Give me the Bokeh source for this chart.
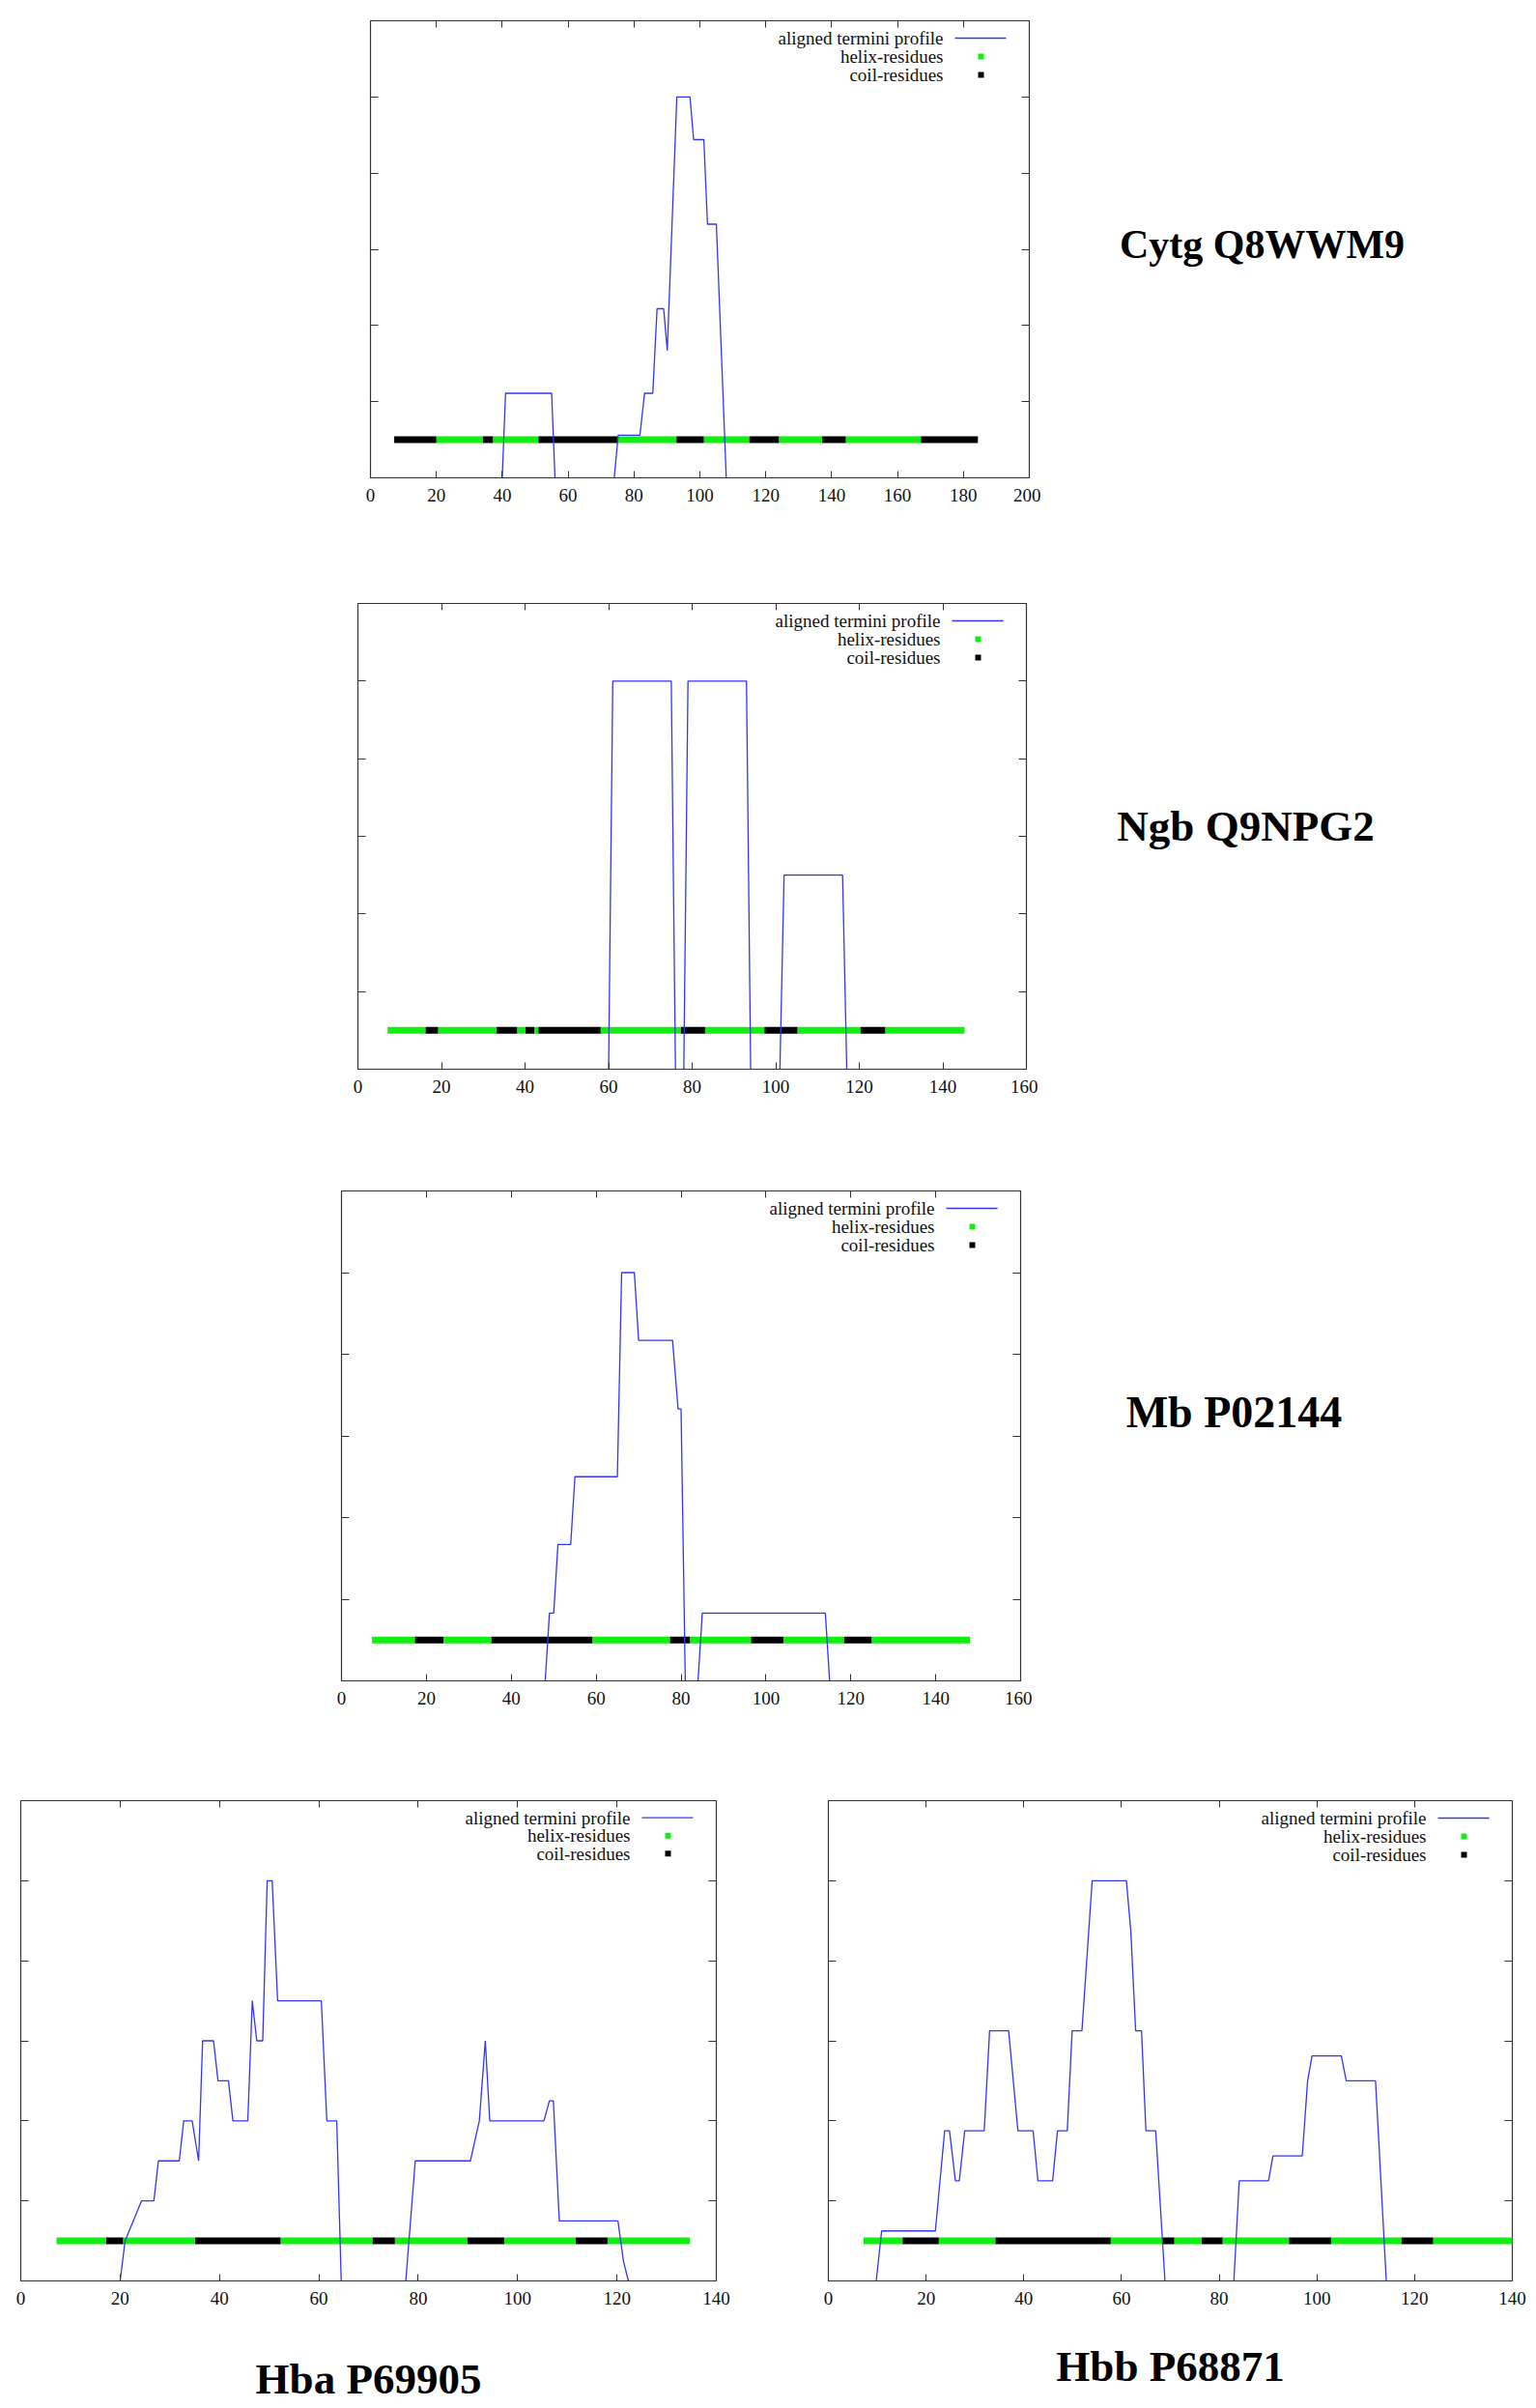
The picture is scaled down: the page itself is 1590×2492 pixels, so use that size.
from bokeh.plotting import figure
from bokeh.layouts import column, row
from bokeh.models import Range1d, FixedTicker, LinearAxis, Title
from bokeh.core.properties import value
from bokeh.embed import file_html
from bokeh.resources import INLINE

NAN = float("nan")

# ---------------- data ----------------
# Cytg Q8WWM9
cytg_x = [40, 41, 55, 56, NAN, 74, 75.2, 81.8, 83.2, 85.7, 87, 89, 90.1, 93, 97, 98.1, 101.2, 102.3, 105, 108]
cytg_y = [0, 1.11, 1.11, 0, NAN, 0, 0.56, 0.56, 1.11, 1.11, 2.22, 2.22, 1.67, 5, 5, 4.44, 4.44, 3.33, 3.33, 0]
cytg_start = [7.2, 20.0, 34.1, 37.2, 51.0, 74.9, 92.9, 101.2, 115.0, 124.0, 137.1, 144.3, 167.1]
cytg_end = [20.0, 34.1, 37.2, 51.0, 74.9, 92.9, 101.2, 115.0, 124.0, 137.1, 144.3, 167.1, 184.4]
cytg_type = ["coil", "helix", "coil", "helix", "coil", "helix", "coil", "helix", "coil", "helix", "coil", "helix", "coil"]

# Ngb Q9NPG2
ngb_x = [60, 61, 75, 76, NAN, 78, 79, 93, 94, NAN, 101, 102, 116, 117]
ngb_y = [0, 5, 5, 0, NAN, 0, 5, 5, 0, NAN, 0, 2.5, 2.5, 0]
ngb_start = [7.1, 16.2, 19.2, 33.2, 38.1, 40.1, 42.2, 43.2, 58.1, 77.3, 83.1, 97.3, 105.2, 120.3, 126.2]
ngb_end = [16.2, 19.2, 33.2, 38.1, 40.1, 42.2, 43.2, 58.1, 77.3, 83.1, 97.3, 105.2, 120.3, 126.2, 145.2]
ngb_type = ["helix", "coil", "helix", "coil", "helix", "coil", "helix", "coil", "helix", "coil", "helix", "coil", "helix", "coil", "helix"]

# Mb P02144
mb_x = [48, 49, 50, 51, 54, 55, 65, 66, 69, 70, 78, 79.3, 80, 81, NAN, 84, 85, 114, 115]
mb_y = [0, 0.83, 0.83, 1.67, 1.67, 2.5, 2.5, 5, 5, 4.17, 4.17, 3.33, 3.33, 0, NAN, 0, 0.83, 0.83, 0]
mb_start = [7.2, 17.3, 24.0, 35.3, 59.1, 77.4, 82.1, 96.5, 104.1, 118.4, 124.9]
mb_end = [17.3, 24.0, 35.3, 59.1, 77.4, 82.1, 96.5, 104.1, 118.4, 124.9, 148.1]
mb_type = ["helix", "coil", "helix", "coil", "helix", "coil", "helix", "coil", "helix", "coil", "helix"]

# Hba P69905
hba_x = [20, 21, 24.3, 26.8, 27.7, 31.9, 32.8, 34.5, 35.8, 36.6, 38.8, 39.7, 41.8, 42.7, 45.7, 46.6, 47.5, 48.7,
         49.6, 50.6, 51.7, 60.5, 61.6, 63.6, 64.5, NAN, 77.5, 79.4, 90.5, 92.3, 93.5, 94.4, 105.3, 106.4, 107.2, 108.4,
         120.2, 121.3, 122.3]
hba_y = [0, 0.5, 1.0, 1.0, 1.5, 1.5, 2.0, 2.0, 1.5, 3.0, 3.0, 2.5, 2.5, 2.0, 2.0, 3.5, 3.0, 3.0,
         5.0, 5.0, 3.5, 3.5, 2.0, 2.0, 0, NAN, 0, 1.5, 1.5, 2.0, 3.0, 2.0, 2.0, 2.25, 2.25, 0.75,
         0.75, 0.25, 0]
hba_start = [7.2, 17.2, 20.6, 35.1, 52.3, 70.8, 75.3, 89.9, 97.3, 111.7, 118.1]
hba_end = [17.2, 20.6, 35.1, 52.3, 70.8, 75.3, 89.9, 97.3, 111.7, 118.1, 134.7]
hba_type = ["helix", "coil", "helix", "coil", "helix", "coil", "helix", "coil", "helix", "coil", "helix"]

# Hbb P68871
hbb_x = [9.8, 10.9, 21.9, 23.8, 24.8, 26.0, 26.8, 27.9, 31.9, 33.0, 36.9, 38.8, 41.9, 42.9, 45.9, 46.9, 48.9,
         49.9, 51.9, 54.0, 61.0, 61.9, 62.9, 64.1, 65.0, 67.0, 68.9, NAN, 83.0, 84.1, 90.1, 91.0, 97.0, 98.1, 99.0,
         105.0, 106.0, 112.0, 114.2]
hbb_y = [0, 0.625, 0.625, 1.875, 1.875, 1.25, 1.25, 1.875, 1.875, 3.125, 3.125, 1.875, 1.875, 1.25, 1.25, 1.875, 1.875,
         3.125, 3.125, 5.0, 5.0, 4.375, 3.125, 3.125, 1.875, 1.875, 0, NAN, 0, 1.25, 1.25, 1.5625, 1.5625, 2.5, 2.8125,
         2.8125, 2.5, 2.5, 0]
hbb_start = [7.2, 15.2, 22.6, 34.2, 57.8, 68.4, 70.8, 76.4, 80.7, 94.3, 102.9, 117.3, 123.8]
hbb_end = [15.2, 22.6, 34.2, 57.8, 68.4, 70.8, 76.4, 80.7, 94.3, 102.9, 117.3, 123.8, 140.7]
hbb_type = ["helix", "coil", "helix", "coil", "helix", "coil", "helix", "coil", "helix", "coil", "helix", "coil", "helix"]

x_ticks_200 = [0, 20, 40, 60, 80, 100, 120, 140, 160, 180, 200]
x_ticks_160 = [0, 20, 40, 60, 80, 100, 120, 140, 160]
x_ticks_140 = [0, 20, 40, 60, 80, 100, 120, 140]
y_ticks = [1, 2, 3, 4, 5]

legend_labels = ["aligned termini profile", "helix-residues", "coil-residues"]
titles = ["Cytg Q8WWM9", "Ngb Q9NPG2", "Mb P02144", "Hba P69905", "Hbb P68871"]

# ---------------- styling ----------------
SERIF = "Liberation Serif"
BLUE = "#3535f5"
GREEN = "#12ee12"
BLACK = "#000000"
FRAME = "#333333"
YMAX = 6.0
BAR_Y = 0.5


def hide_labels(ax):
    ax.major_label_text_font_size = "1px"
    ax.major_label_text_color = None
    ax.major_label_standoff = 0


def panel(px, py, starts, ends, kinds, xmax, xticks, bl, br, bt, bb, fw, fh, gap=None):
    p = figure(width=bl + fw + br, height=bt + fh + bb, title=None,
               x_range=Range1d(0, xmax), y_range=Range1d(0, YMAX),
               output_backend="svg", toolbar_location=None,
               min_border_left=bl, min_border_right=br, min_border_top=bt, min_border_bottom=bb,
               x_axis_location=None, y_axis_location=None)
    p.grid.visible = False
    p.outline_line_color = FRAME
    p.outline_line_width = 1.2
    p.background_fill_color = "white"
    p.border_fill_color = "white"

    for loc in ["below", "above"]:
        ax = LinearAxis(ticker=FixedTicker(ticks=xticks))
        ax.major_tick_in = 7
        ax.major_tick_out = 0
        ax.minor_tick_line_color = None
        ax.axis_line_color = None
        ax.major_tick_line_color = FRAME
        if loc == "below":
            ax.major_label_text_font = SERIF
            ax.major_label_text_font_size = "19px"
            ax.major_label_text_color = "#111111"
            ax.major_label_standoff = 11
            if gap is not None:
                # invisible spacer between tick labels and the panel name below
                ax.axis_label = "\u00a0"
                ax.axis_label_text_font_size = "10px"
                ax.axis_label_text_color = None
                ax.axis_label_standoff = gap
        else:
            hide_labels(ax)
        p.add_layout(ax, loc)
    for loc in ["left", "right"]:
        ax = LinearAxis(ticker=FixedTicker(ticks=y_ticks))
        ax.major_tick_in = 8
        ax.major_tick_out = 0
        ax.minor_tick_line_color = None
        ax.axis_line_color = None
        ax.major_tick_line_color = FRAME
        hide_labels(ax)
        p.add_layout(ax, loc)

    # helix / coil residue bar
    hs = [s for s, k in zip(starts, kinds) if k == "helix"]
    he = [e for e, k in zip(ends, kinds) if k == "helix"]
    cs = [s for s, k in zip(starts, kinds) if k == "coil"]
    ce = [e for e, k in zip(ends, kinds) if k == "coil"]
    p.segment(x0=hs, y0=[BAR_Y] * len(hs), x1=he, y1=[BAR_Y] * len(hs),
              line_color=GREEN, line_width=7, line_cap="butt")
    p.segment(x0=cs, y0=[BAR_Y] * len(cs), x1=ce, y1=[BAR_Y] * len(cs),
              line_color=BLACK, line_width=7, line_cap="butt")

    # profile line
    p.line(px, py, line_color=BLUE, line_width=1.3)

    # legend (gnuplot style: text right-aligned, sample to the right)
    dx = xmax / fw
    dy = YMAX / fh
    rows_px = [18, 37, 56]
    ys = [YMAX - r * dy for r in rows_px]
    xt = xmax - 89 * dx
    p.text(x=[xt] * 3, y=ys, text=legend_labels,
           text_font=value(SERIF), text_font_size=value("19px"),
           text_align="right", text_baseline="middle", text_color="#111111")
    p.segment(x0=[xmax - 77 * dx], y0=[ys[0]], x1=[xmax - 24 * dx], y1=[ys[0]],
              line_color=BLUE, line_width=1.3)
    p.scatter(x=[xmax - 50 * dx] * 2, y=ys[1:], marker="square", size=6,
              fill_color=[GREEN, BLACK], line_color=None)
    return p


def title_fig(w, h, xs, ys, texts, sizes):
    t = figure(width=w, height=h, title=None, x_range=Range1d(0, w), y_range=Range1d(h, 0),
               output_backend="svg", toolbar_location=None,
               x_axis_type=None, y_axis_type=None,
               min_border_left=0, min_border_right=0, min_border_top=0, min_border_bottom=0)
    t.grid.visible = False
    t.outline_line_color = None
    t.border_fill_color = "white"
    for x, y, s, fs in zip(xs, ys, texts, sizes):
        t.text(x=[x], y=[y], text=[s], text_font=value(SERIF), text_font_size=value(fs),
               text_font_style="bold", text_align="center", text_baseline="alphabetic",
               text_color="black")
    return t


def bottom_title(p, text):
    t = Title(text=text, align="center", text_font=SERIF, text_font_size="45px",
              text_font_style="bold", text_color="black", standoff=0)
    p.add_layout(t, "below")


W = 1590

p1 = panel(cytg_x, cytg_y, cytg_start, cytg_end, cytg_type, 200, x_ticks_200,
           383, 12, 21, 74, 682, 473)
t1 = title_fig(W - p1.width, p1.height, [229], [278], [titles[0]], ["42px"])

p2 = panel(ngb_x, ngb_y, ngb_start, ngb_end, ngb_type, 160, x_ticks_160,
           370, 12, 56, 82, 692, 482)
t2 = title_fig(W - p2.width, p2.height, [215], [296], [titles[1]], ["45px"])

p3 = panel(mb_x, mb_y, mb_start, mb_end, mb_type, 160, x_ticks_160,
           353, 12, 44, 69, 703, 507)
t3 = title_fig(W - p3.width, p3.height, [209], [280], [titles[2]], ["46px"])

p4 = panel(hba_x, hba_y, hba_start, hba_end, hba_type, 140, x_ticks_140,
           21, 60, 51, 122, 720, 509, gap=33)
p5 = panel(hbb_x, hbb_y, hbb_start, hbb_end, hbb_type, 140, x_ticks_140,
           56, W - p4.width - 56 - 708, 55, 130, 708, 497, gap=20)
bottom_title(p4, titles[3])
bottom_title(p5, titles[4])

layout = column(
    row(p1, t1, spacing=0),
    row(p2, t2, spacing=0),
    row(p3, t3, spacing=0),
    row(p4, p5, spacing=0),
    spacing=0,
)

open("out.html", "w").write(file_html(layout, INLINE))
